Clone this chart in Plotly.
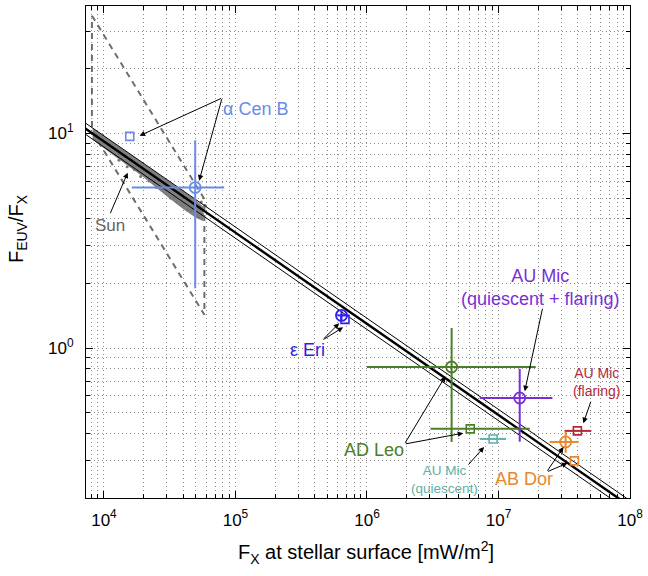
import numpy as np
import plotly.graph_objects as go

# ---------------- data ----------------
# power-law fit F_EUV/F_X = A * F_X^B  (with +/- normalisation spread)
FIT_NORM = 460.0
FIT_EXP = -0.425
FIT_SPREAD = 1.062
fit_fx = np.array([6.5e3, 1.3e8])

# Sun: range box (F_X range, F_EUV range)
sun_fx_range = [8.1e3, 5.8e4]
sun_feuv_range = [8.3e4, 2.87e5]
# Sun: dense band of measurements
sun_band_fx = [8.2e3, 1.2e4, 2.0e4, 3.0e4, 4.0e4, 5.0e4, 5.7e4]
sun_band_hi = [10.6, 9.0, 7.2, 6.05, 5.35, 4.9, 4.55]
sun_band_lo = [9.35, 7.85, 6.25, 5.1, 4.45, 4.05, 3.9]
# Sun: scattered measurements
sun_dot_fx = [1.1e4, 1.3e4, 1.5e4, 1.7e4, 1.9e4, 2.2e4, 2.4e4, 2.5e4, 2.8e4, 3.2e4,
              3.4e4, 3.6e4, 3.9e4, 4.3e4, 4.6e4, 4.8e4, 5.2e4, 5.5e4, 5.6e4, 5.9e4]
sun_dot_ratio = [8.4, 7.5, 7.0, 6.8, 6.3, 6.0, 5.9, 5.6, 5.5, 5.0,
                 5.0, 4.8, 4.65, 4.4, 4.35, 4.5, 4.1, 4.8, 4.2, 4.6]

# stars: circle = (measurement with uncertainty), square = other estimate
acen_circ_fx, acen_circ_r = [4.94e4], [5.6]
acen_circ_fx_lo, acen_circ_fx_hi = [1.63e4], [8.2e4]
acen_circ_r_lo, acen_circ_r_hi = [1.9], [9.3]
acen_sq_fx, acen_sq_r = [1.57e4], [9.7]

eeri_circ_fx, eeri_circ_r = [6.4e5], [1.42]
eeri_circ_fx_lo, eeri_circ_fx_hi = [5.95e5], [6.85e5]
eeri_circ_r_lo, eeri_circ_r_hi = [1.35], [1.49]
eeri_sq_fx, eeri_sq_r = [6.8e5], [1.36]

adleo_circ_fx, adleo_circ_r = [4.4e6], [0.816]
adleo_circ_fx_lo, adleo_circ_fx_hi = [1.0e6], [1.92e7]
adleo_circ_r_lo, adleo_circ_r_hi = [0.365], [1.24]
adleo_sq_fx, adleo_sq_r = [6.1e6], [0.42]
adleo_sq_fx_lo, adleo_sq_fx_hi = [3.04e6], [1.73e7]

aumic_q_fx, aumic_q_r = [9.1e6], [0.377]
aumic_q_fx_lo, aumic_q_fx_hi = [7.2e6], [1.14e7]

aumic_qf_fx, aumic_qf_r = [1.45e7], [0.585]
aumic_qf_fx_lo, aumic_qf_fx_hi = [7.2e6], [2.57e7]
aumic_qf_r_lo, aumic_qf_r_hi = [0.366], [0.80]

aumic_f_fx, aumic_f_r = [3.98e7], [0.411]
aumic_f_fx_lo, aumic_f_fx_hi = [3.18e7], [5.08e7]

abdor_circ_fx, abdor_circ_r = [3.24e7], [0.365]
abdor_circ_fx_lo, abdor_circ_fx_hi = [2.45e7], [4.07e7]
abdor_circ_r_lo, abdor_circ_r_hi = [0.325], [0.407]
abdor_sq_fx, abdor_sq_r = [3.78e7], [0.298]

X_RANGE = [7.3e3, 1.0e8]
Y_RANGE = [0.2, 39.3]
x_major = [1e4, 1e5, 1e6, 1e7, 1e8]
y_major = [1e0, 1e1]

# ---------------- colours ----------------
C_ACEN = "#6a8be6"
C_EERI = "#3020ee"
C_ADLEO = "#4a7f27"
C_AUMIC_Q = "#5fb0a6"
C_AUMIC_QF = "#7a2fd6"
C_AUMIC_F = "#b3283a"
C_ABDOR = "#e8872d"
C_SUN = "#666666"
FONT = "Liberation Sans, Arial, sans-serif"
GRID = "#8c8c8c"
GRID_DASH = "1px,3px"

fig = go.Figure()

# Sun range box (dashed)
fx0, fx1 = sun_fx_range
e0, e1 = sun_feuv_range
box_x = [fx0, fx1, fx1, fx0, fx0]
box_y = [e1 / fx0, e1 / fx1, e0 / fx1, e0 / fx0, e1 / fx0]
fig.add_trace(go.Scatter(x=box_x, y=box_y, mode="lines",
                         line=dict(color="#6e6e6e", width=2, dash="6px,5px"),
                         hoverinfo="skip"))

# Sun band
fig.add_trace(go.Scatter(x=sun_band_fx + sun_band_fx[::-1],
                         y=sun_band_hi + sun_band_lo[::-1],
                         fill="toself", fillcolor="rgba(105,105,105,0.85)",
                         line=dict(width=0), mode="lines", hoverinfo="skip"))
fig.add_trace(go.Scatter(x=sun_dot_fx, y=sun_dot_ratio, mode="markers",
                         marker=dict(color="#777777", size=3), hoverinfo="skip"))

# fit lines
fit_r = FIT_NORM * fit_fx ** FIT_EXP
for fac, w in [(FIT_SPREAD, 1.0), (1 / FIT_SPREAD, 1.0), (1.0, 2.4)]:
    fig.add_trace(go.Scatter(x=fit_fx, y=fit_r * fac, mode="lines",
                             line=dict(color="black", width=w), hoverinfo="skip"))


def errs(c, lo, hi):
    return dict(type="data", symmetric=False,
                array=[h - v for h, v in zip(hi, c)],
                arrayminus=[v - l for v, l in zip(c, lo)])


def circ(fx, r, color, fxlo=None, fxhi=None, rlo=None, rhi=None, ew=2):
    kw = {}
    if fxlo is not None:
        kw["error_x"] = dict(**errs(fx, fxlo, fxhi), color=color, thickness=ew, width=0)
    if rlo is not None:
        kw["error_y"] = dict(**errs(r, rlo, rhi), color=color, thickness=ew, width=0)
    fig.add_trace(go.Scatter(x=fx, y=r, mode="markers",
                             marker=dict(symbol="circle-open", size=11, color=color,
                                         line=dict(width=1.8, color=color)), **kw))


def sq(fx, r, color, fxlo=None, fxhi=None, ew=2):
    kw = {}
    if fxlo is not None:
        kw["error_x"] = dict(**errs(fx, fxlo, fxhi), color=color, thickness=ew, width=0)
    fig.add_trace(go.Scatter(x=fx, y=r, mode="markers",
                             marker=dict(symbol="square-open", size=8, color=color,
                                         line=dict(width=1.6, color=color)), **kw))


circ(acen_circ_fx, acen_circ_r, C_ACEN, acen_circ_fx_lo, acen_circ_fx_hi,
     acen_circ_r_lo, acen_circ_r_hi)
sq(acen_sq_fx, acen_sq_r, C_ACEN)
sq(eeri_sq_fx, eeri_sq_r, C_EERI)
circ(eeri_circ_fx, eeri_circ_r, C_EERI, eeri_circ_fx_lo, eeri_circ_fx_hi,
     eeri_circ_r_lo, eeri_circ_r_hi)
circ(adleo_circ_fx, adleo_circ_r, C_ADLEO, adleo_circ_fx_lo, adleo_circ_fx_hi,
     adleo_circ_r_lo, adleo_circ_r_hi)
sq(adleo_sq_fx, adleo_sq_r, C_ADLEO, adleo_sq_fx_lo, adleo_sq_fx_hi)
sq(aumic_q_fx, aumic_q_r, C_AUMIC_Q, aumic_q_fx_lo, aumic_q_fx_hi)
circ(aumic_qf_fx, aumic_qf_r, C_AUMIC_QF, aumic_qf_fx_lo, aumic_qf_fx_hi,
     aumic_qf_r_lo, aumic_qf_r_hi)
sq(aumic_f_fx, aumic_f_r, C_AUMIC_F, aumic_f_fx_lo, aumic_f_fx_hi)
circ(abdor_circ_fx, abdor_circ_r, C_ABDOR, abdor_circ_fx_lo, abdor_circ_fx_hi,
     abdor_circ_r_lo, abdor_circ_r_hi)
sq(abdor_sq_fx, abdor_sq_r, C_ABDOR)

# ---------------- layout / annotations ----------------
L, R, T, B = 86, 634, 5, 498
W, H = R - L, B - T


def px(xp, yp):
    return (xp - L) / W, (B - yp) / H


ann = []


def label(text, xp, yp, color, size):
    x, y = px(xp, yp)
    ann.append(dict(text=text, x=x, y=y, xref="paper", yref="paper", showarrow=False,
                    xanchor="center", yanchor="middle",
                    font=dict(color=color, size=size, family=FONT)))


def arrow(head, tail):
    x, y = px(*head)
    ann.append(dict(text="", x=x, y=y, xref="paper", yref="paper", showarrow=True,
                    ax=tail[0] - head[0], ay=tail[1] - head[1],
                    arrowhead=2, arrowsize=1.1, arrowwidth=1, arrowcolor="black",
                    standoff=0, startstandoff=0))


label("α Cen B", 257, 108, C_ACEN, 18)
arrow((140, 135), (223, 97))
arrow((200, 180), (223, 97))
label("Sun", 110, 225, C_SUN, 17)
arrow((128, 172), (110, 214))
label("ε Eri", 309, 350, C_EERI, 18)
arrow((341, 323), (324, 340))
arrow((345, 327), (324, 340))
label("AD Leo", 376, 450, C_ADLEO, 18)
arrow((448, 376), (407, 444))
arrow((466, 433), (407, 444))
label("AU Mic<br>(quiescent)", 447, 479, C_AUMIC_Q, 13.5)
arrow((487, 447), (470, 466))
label("AU Mic<br>(quiescent + flaring)", 544, 287, C_AUMIC_QF, 18)
arrow((528, 391), (546, 307))
label("AU Mic<br>(flaring)", 600, 382, C_AUMIC_F, 14)
arrow((587, 423), (595, 400))
label("AB Dor", 527, 479, C_ABDOR, 18)
arrow((567, 447), (550, 472))
arrow((571, 463), (550, 472))

# axis titles
x, y = px(368, 553)
ann.append(dict(text="F<sub>X</sub> at stellar surface [mW/m<sup>2</sup>]", x=x, y=y,
                xref="paper", yref="paper", showarrow=False, xanchor="center",
                yanchor="middle", font=dict(size=20, family=FONT, color="black")))
x, y = px(17, 228)
ann.append(dict(text="F<sub>EUV</sub>/F<sub>X</sub>", x=x, y=y, textangle=-90,
                xref="paper", yref="paper", showarrow=False, xanchor="center",
                yanchor="middle", font=dict(size=20, family=FONT, color="black")))

x_minor = [m * d for d in [1e3, 1e4, 1e5, 1e6, 1e7] for m in range(2, 10)]
y_minor = [m * d for d in [1e-1, 1e0, 1e1] for m in range(2, 10)]

axis_common = dict(type="log", showline=True, linecolor="black", linewidth=1.2,
                   mirror="allticks", ticks="inside", ticklen=7, tickcolor="black",
                   showgrid=True, gridcolor=GRID, griddash=GRID_DASH, gridwidth=1,
                   exponentformat="power", zeroline=False,
                   tickfont=dict(size=17, family=FONT, color="black"))

fig.update_xaxes(**axis_common, range=[np.log10(X_RANGE[0]), np.log10(X_RANGE[1])],
                 tickmode="array", tickvals=x_major,
                 ticktext=["10<sup>4</sup>", "10<sup>5</sup>", "10<sup>6</sup>",
                           "10<sup>7</sup>", "10<sup>8</sup>"],
                 ticklabelstandoff=6,
                 minor=dict(tickmode="array", tickvals=x_minor, ticks="inside", ticklen=4,
                            tickcolor="black", showgrid=True, gridcolor=GRID,
                            griddash=GRID_DASH, gridwidth=1))
fig.update_yaxes(**axis_common, range=[np.log10(Y_RANGE[0]), np.log10(Y_RANGE[1])],
                 tickmode="array", tickvals=y_major,
                 ticktext=["10<sup>0</sup>", "10<sup>1</sup>"],
                 ticklabelstandoff=8,
                 minor=dict(tickmode="array", tickvals=y_minor, ticks="inside", ticklen=4,
                            tickcolor="black", showgrid=True, gridcolor=GRID,
                            griddash=GRID_DASH, gridwidth=1))

fig.update_layout(width=648, height=576, showlegend=False,
                  margin=dict(l=L, r=648 - R, t=T, b=576 - B),
                  plot_bgcolor="white", paper_bgcolor="white",
                  annotations=ann, font=dict(family=FONT))

fig.write_html("out.html")
